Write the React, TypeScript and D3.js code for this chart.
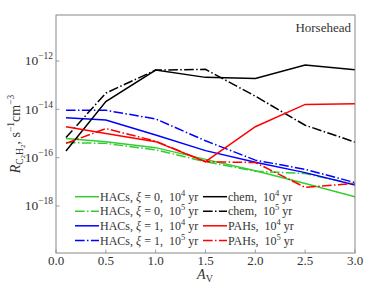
import React from "react";
import * as d3 from "d3";

const AV = [0.1, 0.5, 1.0, 1.5, 2.0, 2.5, 3.0];
const hacs0_1e4 = [6.2e-16, 4.6e-16, 2.6e-16, 8.5e-17, 2.9e-17, 8.5e-18, 2.4e-18];
const hacs0_1e5 = [4.2e-16, 3.9e-16, 2.1e-16, 6.8e-17, 2.75e-17, 2.2e-17, 7.9e-18];
const hacs1_1e4 = [4.5e-15, 3.6e-15, 8.7e-16, 1.95e-16, 6.5e-17, 2.4e-17, 7.4e-18];
const hacs1_1e5 = [9.1e-15, 9.1e-15, 4.0e-15, 5.0e-16, 7.9e-17, 3.3e-17, 9.3e-18];
const chem_1e4 = [1.9e-16, 2.1e-14, 4.2e-13, 2.1e-13, 1.9e-13, 6.8e-13, 4.3e-13];
const chem_1e5 = [6.8e-16, 4.7e-14, 4.2e-13, 4.5e-13, 3.5e-14, 2.2e-15, 4.4e-16];
const pahs_1e4 = [1.9e-15, 1.0e-15, 4.6e-16, 6.8e-17, 1.9e-15, 1.6e-14, 1.7e-14];
const pahs_1e5 = [3.9e-16, 1.6e-15, 4.8e-16, 6.8e-17, 6.3e-17, 5.9e-18, 8.7e-18];

const xTicks = [0, 0.5, 1.0, 1.5, 2.0, 2.5, 3.0];
const yTickExps = [-12, -14, -16, -18];

const GREEN = "#33cc33";
const BLUE = "#0000ff";
const RED = "#ff0000";
const BLACK = "#000000";

type Series = { name: string; sub: string; val: string; yr: string; values: number[]; color: string; dash: boolean };
const series: Series[] = [
  { name: "HACs", sub: "ξ", val: "0", yr: "4", values: hacs0_1e4, color: GREEN, dash: false },
  { name: "HACs", sub: "ξ", val: "0", yr: "5", values: hacs0_1e5, color: GREEN, dash: true },
  { name: "HACs", sub: "ξ", val: "1", yr: "4", values: hacs1_1e4, color: BLUE, dash: false },
  { name: "HACs", sub: "ξ", val: "1", yr: "5", values: hacs1_1e5, color: BLUE, dash: true },
  { name: "chem", sub: "", val: "", yr: "4", values: chem_1e4, color: BLACK, dash: false },
  { name: "chem", sub: "", val: "", yr: "5", values: chem_1e5, color: BLACK, dash: true },
  { name: "PAHs", sub: "", val: "", yr: "4", values: pahs_1e4, color: RED, dash: false },
  { name: "PAHs", sub: "", val: "", yr: "5", values: pahs_1e5, color: RED, dash: true },
];

const L = 56, R = 355, T = 15, B = 253;
const FONT = "Liberation Serif, DejaVu Serif, serif";
const DASH = "9.6,2.4,1.5,2.4";

export default function App() {
  const x = d3.scaleLinear().domain([0, 3]).range([L, R]);
  const y = d3.scaleLog().domain([Math.pow(10, -19.945), Math.pow(10, -10.097)]).range([B, T]);
  const line = d3.line<[number, number]>().x((d) => x(d[0])).y((d) => y(d[1]));

  const legendRows = [196.7, 211.2, 225.8, 240.5];
  const legendCols = [75, 203];

  return (
    <svg width={374} height={299} style={{ position: "absolute", left: 0, top: 0, background: "#fff", fontFamily: FONT }}>
      <defs>
        <clipPath id="plot">
          <rect x={L} y={T} width={R - L} height={B - T} />
        </clipPath>
      </defs>
      <rect x={0} y={0} width={374} height={299} fill="#fff" />
      <g clipPath="url(#plot)">
        {series.map((s, i) => (
          <path
            key={i}
            d={line(AV.map((a, j) => [a, s.values[j]] as [number, number])) || ""}
            fill="none"
            stroke={s.color}
            strokeWidth={1.5}
            strokeDasharray={s.dash ? DASH : undefined}
          />
        ))}
      </g>
      {/* frame */}
      <rect x={L} y={T} width={R - L} height={B - T} fill="none" stroke="#888" strokeWidth={1} />
      {/* x ticks */}
      {xTicks.map((t) => (
        <g key={t}>
          <line x1={x(t)} x2={x(t)} y1={B} y2={B - 3.5} stroke="#888" strokeWidth={0.8} />
          <text x={x(t)} y={265} textAnchor="middle" fontSize={13} fill="#333" style={{ fontFamily: FONT }}>
            {t.toFixed(1)}
          </text>
        </g>
      ))}
      {/* y ticks */}
      {yTickExps.map((e) => {
        const yy = y(Math.pow(10, e));
        return (
          <g key={e}>
            <line x1={L} x2={L + 3.5} y1={yy} y2={yy} stroke="#888" strokeWidth={0.8} />
            <text x={53} y={yy + 4.5} textAnchor="end" fontSize={13.5} fill="#333" style={{ fontFamily: FONT }}>
              10
              <tspan fontSize={9.5} dy={-6}>
                {"−" + Math.abs(e)}
              </tspan>
            </text>
          </g>
        );
      })}
      {/* x label */}
      <text x={205} y={279} textAnchor="middle" fontSize={14} fill="#333" style={{ fontFamily: FONT }}>
        <tspan fontStyle="italic">A</tspan>
        <tspan fontSize={10} dy={3}>V</tspan>
      </text>
      {/* y label */}
      <text transform="translate(20,134) rotate(-90)" textAnchor="middle" fontSize={14} fill="#333" style={{ fontFamily: FONT }}>
        <tspan fontStyle="italic">R</tspan>
        <tspan fontSize={9.5} dy={3}>C</tspan>
        <tspan fontSize={7} dy={2}>2</tspan>
        <tspan fontSize={9.5} dy={-2}>H</tspan>
        <tspan fontSize={7} dy={2}>2</tspan>
        <tspan dy={-5}>, s</tspan>
        <tspan fontSize={9.5} dy={-6}>−1</tspan>
        <tspan dy={6}>cm</tspan>
        <tspan fontSize={9.5} dy={-6}>−3</tspan>
      </text>
      {/* annotation */}
      <text x={351} y={32} textAnchor="end" fontSize={13} fill="#333" style={{ fontFamily: FONT }}>
        Horsehead
      </text>
      {/* legend */}
      {series.map((s, i) => {
        const col = Math.floor(i / 4);
        const row = i % 4;
        const lx = legendCols[col];
        const ly = legendRows[row];
        return (
          <g key={"lg" + i}>
            <line x1={lx} x2={lx + 24} y1={ly} y2={ly} stroke={s.color} strokeWidth={1.5} strokeDasharray={s.dash ? DASH : undefined} />
            <text x={lx + 25} y={ly + 4} fontSize={12} fill="#333" style={{ fontFamily: FONT }}>
              {s.name + ","}
              {s.sub ? (
                <>
                  <tspan fontStyle="italic">{" " + s.sub}</tspan>
                  <tspan>{" = " + s.val + ","}</tspan>
                </>
              ) : null}
              <tspan>{"\u00a0 10"}</tspan>
              <tspan fontSize={8.5} dy={-5}>{s.yr}</tspan>
              <tspan dy={5}>{" yr"}</tspan>
            </text>
          </g>
        );
      })}
    </svg>
  );
}
